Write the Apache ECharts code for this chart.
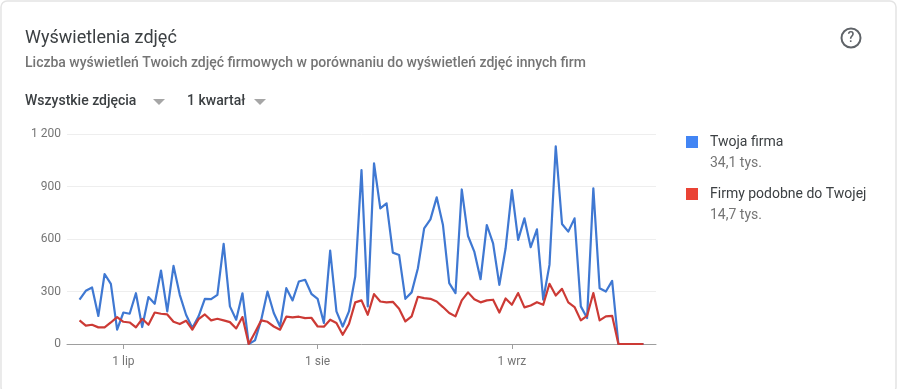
<!DOCTYPE html>
<html>
<head>
<meta charset="utf-8">
<style>html,body{margin:0;padding:0;background:#fff}#c{width:900px;height:389px}</style>
<script src="https://cdn.jsdelivr.net/npm/echarts@6/dist/echarts.min.js"></script>
</head>
<body>
<div id="c"></div>
<script>
const titleText = 'Wyświetlenia zdjęć';
const subtitleText = 'Liczba wyświetleń Twoich zdjęć firmowych w porównaniu do wyświetleń zdjęć innych firm';
const filterLabels = ['Wszystkie zdjęcia', '1 kwartał'];
const seriesNames = ['Twoja firma', 'Firmy podobne do Twojej'];
const seriesTotals = ['34,1 tys.', '14,7 tys.'];
const monthTicks = {'7-1': '1 lip', '8-1': '1 sie', '9-1': '1 wrz'};
// one entry per day, 24 June to 22 September
const firma = [253,304,323,160,400,344,82,180,173,290,97,268,230,420,186,446,281,167,91,158,258,256,281,572,215,139,290,0,21,139,300,177,100,319,249,357,367,287,258,120,534,186,100,186,386,994,215,1032,775,804,522,509,258,295,433,661,712,838,680,348,291,883,617,528,370,680,575,338,547,880,595,718,553,655,253,452,1130,686,642,718,215,148,889,319,300,361,0,0,0,0,0];
const podobne = [135,105,110,95,95,123,154,127,123,95,144,110,180,173,169,127,114,133,82,142,169,135,144,135,125,89,154,0,66,135,127,100,82,156,152,156,148,150,100,99,139,120,53,114,238,249,167,285,243,238,241,201,129,158,270,262,258,243,211,177,158,249,295,256,238,249,253,180,260,224,291,209,220,239,224,344,277,315,238,211,135,161,291,135,158,161,0,0,0,0,0];

// axis runs two days beyond the data on either side
const categories = [];
[[6,22,30],[7,1,31],[8,1,31],[9,1,24]].forEach(([m,a,b]) => { for (let d=a; d<=b; d++) categories.push(m+'-'+d); });
const pad = v => [null,null].concat(v,[null,null]);

const chart = echarts.init(document.getElementById('c'), null, {renderer:'canvas'});
const FONT = 'Roboto';
const txt = (x,y,text,size,color,weight) => ({type:'text',left:x,top:y,silent:true,
  style:{text,font:(weight||400)+' '+size+'px '+FONT,fill:color}});
const tri = (x) => ({type:'polygon',silent:true,shape:{points:[[x,99],[x+12,99],[x+6,105]]},style:{fill:'#a6a6a6'}});

chart.setOption({
  animation:false,
  backgroundColor:'#fff',
  textStyle:{fontFamily:FONT},
  title:{text:titleText,left:25,top:29,padding:0,textStyle:{fontSize:18,fontWeight:400,color:'#3c4043',fontFamily:FONT}},
  grid:{left:67,top:134,width:589,height:210,containLabel:false},
  legend:{orient:'vertical',left:686,top:135,itemWidth:12,itemHeight:12,itemGap:38,padding:0,selectedMode:false,icon:'rect',
    data:seriesNames,textStyle:{fontSize:14,color:'#3c4043',fontFamily:FONT,padding:[0,0,0,7]}},
  xAxis:{type:'category',data:categories,boundaryGap:false,
    axisLine:{lineStyle:{color:'#9e9e9e',width:1}},
    axisTick:{alignWithLabel:true,length:5,lineStyle:{color:'#9e9e9e'},interval:(i,v)=>v in monthTicks},
    axisLabel:{interval:(i,v)=>v in monthTicks,formatter:v=>monthTicks[v]||'',color:'#757575',fontSize:12,margin:12,fontFamily:FONT},
    splitLine:{show:false}},
  yAxis:{type:'value',min:0,max:1200,interval:300,
    axisLine:{show:false},axisTick:{show:false},
    axisLabel:{color:'#757575',fontSize:12,margin:6,fontFamily:FONT,formatter:v=>String(v).replace(/\B(?=(\d{3})+$)/g,' ')},
    splitLine:{lineStyle:{color:'#eeeeee',width:1}}},
  series:[
    {name:seriesNames[0],type:'line',data:pad(firma),showSymbol:false,symbol:'none',itemStyle:{color:'#4285f4'},lineStyle:{color:'#3f78d2',width:2.2,join:'round'},connectNulls:false},
    {name:seriesNames[1],type:'line',data:pad(podobne),showSymbol:false,symbol:'none',itemStyle:{color:'#ea4335'},lineStyle:{color:'#cc3a35',width:2.2,join:'round'},connectNulls:false}
  ],
  graphic:[
    {type:'rect',silent:true,z:-10,shape:{x:1,y:1,width:895,height:392,r:6},style:{fill:'#fff',stroke:'#e4e4e4',lineWidth:1.5}},
    txt(25,56,subtitleText,14,'#757575',500),
    txt(25,94,filterLabels[0],14,'#3c4043',500),
    txt(187,94,filterLabels[1],14,'#3c4043',500),
    tri(153),tri(254),
    {type:'circle',silent:true,shape:{cx:851,cy:38,r:9.5},style:{fill:'none',stroke:'#5f6368',lineWidth:2}},
    {type:'text',silent:true,x:851,y:38,style:{text:'?',font:'500 14px '+FONT,fill:'#5f6368',align:'center',verticalAlign:'middle'}},
    txt(710,156,seriesTotals[0],14,'#757575'),
    txt(710,208,seriesTotals[1],14,'#757575')
  ]
});
</script>
</body>
</html>
